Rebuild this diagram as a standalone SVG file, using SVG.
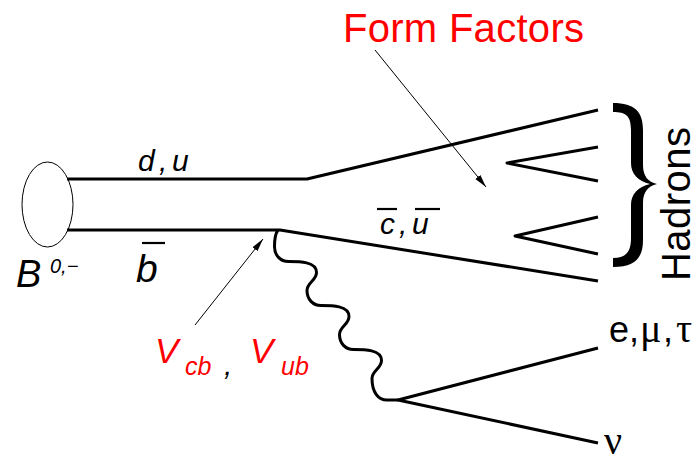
<svg xmlns="http://www.w3.org/2000/svg" width="698" height="463" viewBox="0 0 698 463">
<style>
.ln{fill:none;stroke:#000;stroke-width:3;stroke-linecap:butt;stroke-linejoin:round}
.thin{fill:none;stroke:#000;stroke-width:1}
.bar{stroke:#000;stroke-width:2.2}
.sans{font-family:"Liberation Sans",Arial,Helvetica,sans-serif}
.it{font-style:italic}
.serif{font-family:"Liberation Serif","Times New Roman",serif}
.red{fill:#ff0000}
</style>
<defs>
<marker id="ah" markerWidth="14" markerHeight="8" refX="13" refY="4" orient="auto" markerUnits="userSpaceOnUse">
<path d="M0,0.8 L13,4 L0,7.2 Z" fill="#000"/>
</marker>
</defs>
<rect width="698" height="463" fill="#fff"/>

<g id="B-meson">
<ellipse cx="47.5" cy="204.5" rx="25.5" ry="42.5" fill="none" stroke="#000" stroke-width="1"/>
<text class="sans it" x="16" y="287" font-size="38">B<tspan x="50" y="273" font-size="20">0,−</tspan></text>
</g>

<g id="connectors">
<polyline class="ln" points="67,179 307,179 598,110"/>
<polyline class="ln" points="67,230 280,230 598,281"/>
<polyline class="ln" points="598,147 507,163 598,181"/>
<polyline class="ln" points="598,217 515,236 598,254"/>
<polyline class="ln" points="598,348 398,400 598,443"/>
<path class="ln" d="M278,230 C275,234 274.5,240 274.5,246.5 C274.5,255.5 280.5,261.5 288.5,261.5 C299.5,261.5 316.5,261.5 316.5,272.5 C316.5,280.5 307,282.5 307,290.5 C307,299.5 313,305.5 321,305.5 C332,305.5 349,305.5 349,316.5 C349,324.5 339.5,326.5 339.5,334.5 C339.5,343.5 345.5,349.5 353.5,349.5 C364.5,349.5 381.5,349.5 381.5,360.5 C381.5,368.5 372,370.5 372,378.5 C372,392 378,400 387,400 L398,400"/>
<line class="thin" x1="375" y1="50" x2="486" y2="187" marker-end="url(#ah)"/>
<line class="thin" x1="195" y1="325" x2="263" y2="239" marker-end="url(#ah)"/>
</g>

<g id="hadrons">
<path fill="#000" d="M613,103 C635,103 643,112 643,130 L643,165 C643,176 648,182 657,184 C648,186 643,192 643,203 L643,240 C643,258 635,267 613,267 L613,258 C626,258 631,252 631,238 L631,205 C631,194 638,187 650,184 C638,181 631,174 631,163 L631,130 C631,116 626,112 613,112 Z"/>
<text class="sans" transform="translate(690,281) rotate(-90)" font-size="40" textLength="154" lengthAdjust="spacing">Hadrons</text>
</g>

<g id="label-form-factors">
<text class="sans red" x="343" y="42" font-size="40" textLength="241" lengthAdjust="spacing">Form Factors</text>
</g>

<g id="label-du">
<text class="sans it" x="138 159 172" y="171" font-size="30">d,u</text>
</g>

<g id="label-bbar">
<text class="sans it" x="136" y="282" font-size="39">b</text>
<line class="bar" x1="142" y1="243" x2="165" y2="243"/>
</g>

<g id="label-cu">
<text class="sans it" x="380 399 412" y="234" font-size="30">c,u</text>
<line class="bar" x1="377" y1="209" x2="397" y2="209"/>
<line class="bar" x1="415" y1="209" x2="440" y2="209"/>
</g>

<g id="label-ckm">
<text class="sans it" font-size="35"><tspan class="red" x="155" y="363">V</tspan><tspan class="red" x="185" y="375" font-size="25">cb</tspan><tspan x="224" y="375" font-size="30">,</tspan><tspan class="red" x="250" y="363">V</tspan><tspan class="red" x="281" y="375" font-size="25">ub</tspan></text>
</g>

<g id="label-leptons">
<text class="sans" y="342" font-size="36"><tspan x="609">e</tspan><tspan x="629">,</tspan><tspan class="serif" x="640" font-size="40">μ</tspan><tspan x="663">,</tspan><tspan class="serif" x="676" font-size="40">τ</tspan></text>
</g>

<g id="label-nu">
<text class="serif" x="604" y="454" font-size="40">ν</text>
</g>
</svg>
